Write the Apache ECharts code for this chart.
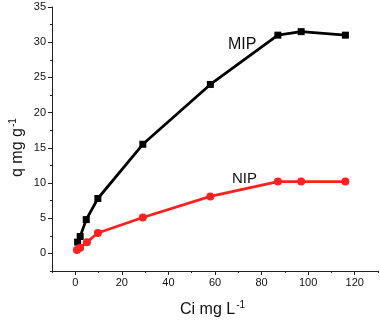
<!DOCTYPE html>
<html>
<head>
<meta charset="utf-8">
<script src="https://cdn.jsdelivr.net/npm/echarts@6/dist/echarts.min.js"></script>
<style>
  html, body { margin: 0; padding: 0; background: #fff; }
  #main { width: 380px; height: 321px; }
</style>
</head>
<body>
<div id="main"></div>
<script>
// data
var mipX = [1.0, 2.1, 4.7, 9.7, 29, 58, 87, 97, 116];
var mipY = [1.6, 2.4, 4.8, 7.8, 15.5, 24.0, 31.0, 31.5, 31.0];
var nipX = [0.7, 2.1, 5.0, 9.7, 29, 58, 87, 97, 116];
var nipY = [0.5, 0.8, 1.6, 2.9, 5.1, 8.1, 10.2, 10.2, 10.2];
var xLabels = [0, 20, 40, 60, 80, 100, 120];
var yLabels = [0, 5, 10, 15, 20, 25, 30, 35];
var xMinor = [-10, 10, 30, 50, 70, 90, 110, 130];
var yMinor = [-2.5, 2.5, 7.5, 12.5, 17.5, 22.5, 27.5, 32.5];

function pairs(xs, ys) {
  var out = [];
  for (var i = 0; i < xs.length; i++) out.push([xs[i], ys[i]]);
  return out;
}

var font = "Arial, 'Liberation Sans', sans-serif";
var axisCol = "#222";
var supStyle = { fontSize: 10, fontFamily: font, fill: "#111", verticalAlign: "top", padding: [0, 0, 9, 1] };

var myChart = echarts.init(document.getElementById("main"));
var option = {
  animation: false,
  grid: { left: 52, right: 2, top: 7, bottom: 50 },
  xAxis: [
    {
      type: "value", min: -10, max: 130,
      splitLine: { show: false },
      axisLine: { onZero: false, lineStyle: { color: axisCol, width: 1 } },
      axisTick: { customValues: xLabels, length: 4, lineStyle: { color: axisCol } },
      axisLabel: { customValues: xLabels, color: "#111", fontSize: 11, fontFamily: font, margin: 6 },
    },
    {
      type: "value", min: -10, max: 130, position: "bottom",
      splitLine: { show: false },
      axisLine: { show: false, onZero: false },
      axisTick: { customValues: xMinor, length: 2, lineStyle: { color: axisCol } },
      axisLabel: { show: false },
    },
  ],
  yAxis: [
    {
      type: "value", min: -2.5, max: 35,
      splitLine: { show: false },
      axisLine: { onZero: false, show: true, lineStyle: { color: axisCol, width: 1 } },
      axisTick: { show: true, customValues: yLabels, length: 4, lineStyle: { color: axisCol } },
      axisLabel: { customValues: yLabels, color: "#111", fontSize: 11, fontFamily: font, margin: 6 },
    },
    {
      type: "value", min: -2.5, max: 35, position: "left",
      splitLine: { show: false },
      axisLine: { show: false, onZero: false },
      axisTick: { show: true, customValues: yMinor, length: 2, lineStyle: { color: axisCol } },
      axisLabel: { show: false },
    },
  ],
  series: [
    {
      name: "MIP", type: "line",
      data: pairs(mipX, mipY),
      symbol: "rect", symbolSize: 7,
      lineStyle: { color: "#000", width: 2.8 },
      itemStyle: { color: "#000" },
    },
    {
      name: "NIP", type: "line",
      data: pairs(nipX, nipY),
      symbol: "circle", symbolSize: 8,
      lineStyle: { color: "#ff2020", width: 2.8 },
      itemStyle: { color: "#ff2020" },
    },
  ],
  graphic: [
    { type: "text", left: 228, top: 37, style: { text: "MIP", fontSize: 16, fontFamily: font, fill: "#111" } },
    { type: "text", left: 232, top: 171, style: { text: "NIP", fontSize: 15, fontFamily: font, fill: "#111" } },
    {
      type: "text", x: 180, y: 300,
      style: { text: "Ci mg L{s|-1}", fontSize: 16, fontFamily: font, fill: "#111", rich: { s: supStyle } },
    },
    {
      type: "text", x: 8, y: 177, rotation: Math.PI / 2,
      style: { text: "q mg g{s|-1}", fontSize: 16, fontFamily: font, fill: "#111", rich: { s: supStyle } },
    },
  ],
};
option && myChart.setOption(option);
</script>
</body>
</html>
